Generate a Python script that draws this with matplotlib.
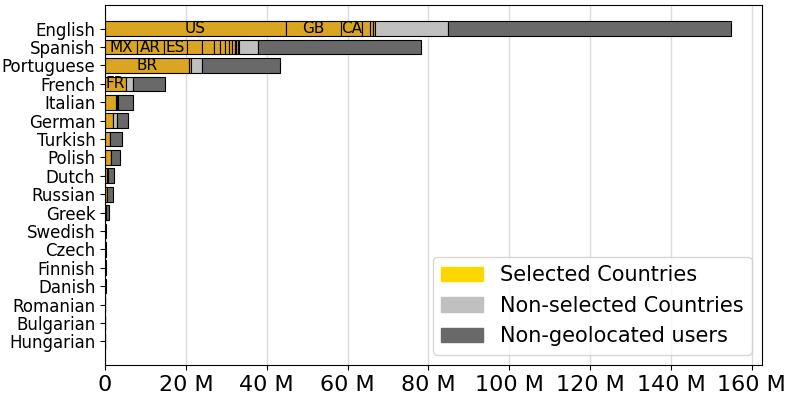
import matplotlib
matplotlib.use("Agg")
import matplotlib.pyplot as plt
from matplotlib.patches import Patch
from matplotlib.ticker import FuncFormatter

# users per language, in millions
languages = ["English", "Spanish", "Portuguese", "French", "Italian", "German",
             "Turkish", "Polish", "Dutch", "Russian", "Greek", "Swedish", "Czech",
             "Finnish", "Danish", "Romanian", "Bulgarian", "Hungarian"]

# selected countries, one list per language (largest first)
selected = [
    [44.7, 13.6, 5.2, 2.0, 0.8, 0.4],
    [8.0, 6.6, 5.7, 3.7, 3.0, 1.5, 1.1, 1.0, 0.9, 0.6, 0.4, 0.3, 0.3],
    [20.7, 0.5],
    [5.1],
    [2.7, 0.15],
    [2.0],
    [1.2],
    [1.5],
    [0.6, 0.1],
    [0.4],
    [0.3],
    [0.1],
    [0.05],
    [0.05],
    [0.04],
    [0.03],
    [0.02],
    [0.02],
]
country_labels = [
    ["US", "GB", "CA"],
    ["MX", "AR", "ES"],
    ["BR"],
    ["FR"],
]
non_selected = [18.2, 4.7, 2.8, 1.8, 0.45, 0.9, 0.1, 0.1, 0.1, 0.1, 0.05,
                0.02, 0.02, 0.01, 0.01, 0.01, 0.01, 0.01]
non_geolocated = [69.9, 40.5, 19.3, 8.0, 3.7, 2.9, 3.0, 2.2, 1.4, 1.5, 0.75,
                  0.25, 0.2, 0.15, 0.1, 0.08, 0.06, 0.06]

sel_color = "#daa520"
legend_sel = "gold"
ns_color = "silver"
ng_color = "dimgray"

fig, ax = plt.subplots(figsize=(7.89, 3.96), dpi=100)
fig.subplots_adjust(left=105/789, right=762/789, top=1-5/396, bottom=1-365/396)

for i, lang in enumerate(languages):
    left = 0
    labels = country_labels[i] if i < len(country_labels) else []
    for j, v in enumerate(selected[i]):
        ax.barh(lang, v, left=left, color=sel_color, edgecolor="black", linewidth=0.8)
        if j < len(labels):
            ax.text(left + v / 2, i, labels[j], ha="center", va="center", fontsize=11)
        left += v
    ax.barh(lang, non_selected[i], left=left, color=ns_color, edgecolor="black", linewidth=0.8)
    left += non_selected[i]
    ax.barh(lang, non_geolocated[i], left=left, color=ng_color, edgecolor="black", linewidth=0.8)

ax.invert_yaxis()
ax.set_xticks(range(0, 161, 20))
ax.xaxis.set_major_formatter(FuncFormatter(lambda x, p: "0" if x == 0 else f"{x:g} M"))
ax.tick_params(axis="x", labelsize=16)
ax.tick_params(axis="y", labelsize=12)
ax.grid(axis="x", color="#dcdcdc", linewidth=1)
ax.set_axisbelow(True)

handles = [Patch(color=legend_sel), Patch(color=ns_color), Patch(color=ng_color)]
ax.legend(handles, ["Selected Countries", "Non-selected Countries", "Non-geolocated users"],
          loc="lower right", fontsize=15)

fig.savefig("out.png")
